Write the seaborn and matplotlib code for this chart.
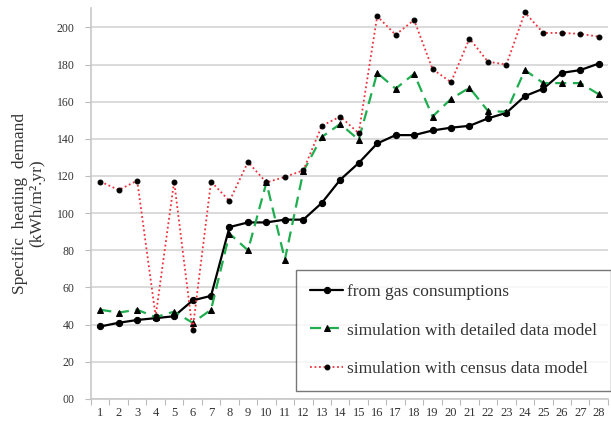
import numpy as np
import pandas as pd
import matplotlib
matplotlib.use("Agg")
import matplotlib.pyplot as plt
import seaborn as sns

# -----------------------------------
# Data
# -----------------------------------

buildings = list(range(1, 29))

gas_consumption = [39, 41, 42.5, 43.5, 44.5, 53, 55.5, 92.5, 95, 95,
                   96.5, 96.5, 105.5, 118, 127, 137.5, 142, 142, 144.5, 146,
                   147, 151, 154, 163, 167, 175.5, 177, 180.5]

detailed_model = [48, 46.5, 48, 44, 47, 41, 48, 89, 80, 116.5,
                  75, 122.5, 141, 148, 139.5, 175.5, 167, 175, 152, 161.5,
                  167.5, 155, 154.5, 177, 170, 170, 170, 164]

census_model = [117, 112.5, 117.5, 44.5, 117, 37, 117, 106.5, 127.5, 116.5,
                119.5, 123, 147, 152, 143, 206, 196, 204, 177.5, 170.5,
                194, 181.5, 180, 208, 197, 197, 196.5, 195]

series_labels = ["from gas consumptions",
                 "simulation with detailed data model",
                 "simulation with census data model"]

y_ticks = list(range(0, 201, 20))
y_tick_labels = ["00"] + [str(v) for v in y_ticks[1:]]

# -----------------------------------
# Plot
# -----------------------------------

sns.set_theme(style="white")
plt.rcParams["font.family"] = ["Liberation Serif", "DejaVu Serif"]

fig = plt.figure(figsize=(6.11, 4.36), dpi=100)
ax = fig.add_axes([0.149, 0.085, 0.846, 0.897])

sns.lineplot(x=buildings, y=gas_consumption, ax=ax,
             color="black", linewidth=1.6, marker="o", markersize=4.5,
             markerfacecolor="black", markeredgecolor="black",
             label=series_labels[0])

sns.lineplot(x=buildings, y=detailed_model, ax=ax,
             color="#1fae4f", linewidth=1.6, linestyle=(0, (5, 3)),
             marker="^", markersize=4.8,
             markerfacecolor="black", markeredgecolor="black",
             label=series_labels[1])

sns.lineplot(x=buildings, y=census_model, ax=ax,
             color="#f0303a", linewidth=1.3, linestyle=(0, (1, 1.5)),
             marker="o", markersize=3.5,
             markerfacecolor="black", markeredgecolor="black",
             label=series_labels[2])

ax.set_xlim(0.5, 28.5)
ax.set_ylim(0, 210.5)

ax.set_xticks(buildings)
ax.set_xticklabels([str(b) for b in buildings], fontsize=9, color="#333333")
ax.set_xticks(np.arange(0.5, 29, 1), minor=True)
ax.tick_params(axis="x", which="major", length=0, pad=6)
ax.tick_params(axis="x", which="minor", length=4, color="#bbbbbb", width=0.8,
               bottom=True)

ax.set_yticks(y_ticks)
ax.set_yticklabels(y_tick_labels, fontsize=8.5, color="#333333")
ax.tick_params(axis="y", length=4, color="#bbbbbb", width=0.8, left=True,
               pad=8)

ax.grid(axis="y", color="#d4d4d4", linewidth=1.2)
ax.set_axisbelow(True)

for side in ["top", "right"]:
    ax.spines[side].set_visible(False)
for side in ["left", "bottom"]:
    ax.spines[side].set_color("#c8c8c8")
    ax.spines[side].set_linewidth(1.2)

ax.set_ylabel("Specific  heating  demand\n(kWh/m\u00b2.yr)",
              fontsize=12.5, color="#333333", labelpad=8, linespacing=1.1)
ax.set_xlabel("")

leg = ax.legend(loc="lower right", bbox_to_anchor=(1.005, 0.02),
                fontsize=12.5, frameon=True, fancybox=False,
                handlelength=1.9, handletextpad=0.2,
                labelspacing=1.3, borderpad=0.8, borderaxespad=0)
leg.get_frame().set_edgecolor("#555555")
leg.get_frame().set_linewidth(1.0)
for txt in leg.get_texts():
    txt.set_color("#333333")

fig.savefig("out.png", dpi=100)
